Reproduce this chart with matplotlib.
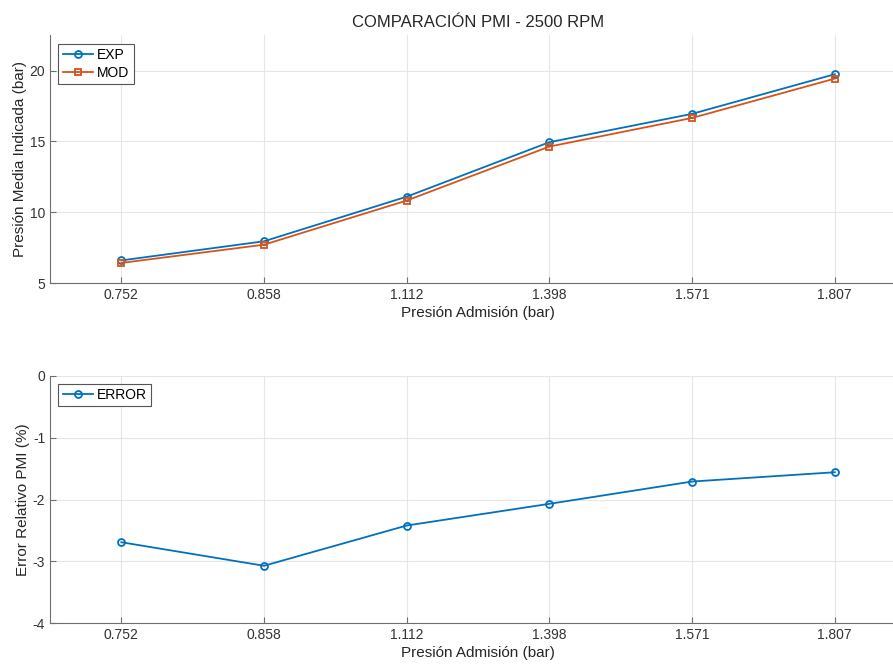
import matplotlib
matplotlib.use('Agg')
import matplotlib.pyplot as plt
import numpy as np

# Datos
presion_adm = ['0.752', '0.858', '1.112', '1.398', '1.571', '1.807']
pmi_exp = [6.60, 7.95, 11.10, 14.95, 16.95, 19.75]
pmi_mod = [6.42, 7.71, 10.83, 14.64, 16.66, 19.44]
error_rel = [-2.69, -3.07, -2.42, -2.07, -1.71, -1.56]

azul = '#0072BD'
naranja = '#D95319'
gris_texto = '#262626'

plt.rcParams['font.family'] = ['Liberation Sans', 'DejaVu Sans']
plt.rcParams['font.size'] = 10
plt.rcParams['axes.unicode_minus'] = False

x = np.arange(1, len(presion_adm) + 1)

fig = plt.figure(figsize=(8.93, 6.66), dpi=100)
ax1 = fig.add_axes([0.056, 0.575, 0.9586, 0.372])
ax2 = fig.add_axes([0.056, 0.064, 0.9586, 0.372])


def estilo_ejes(ax):
    ax.set_xlim(0.5, 6.5)
    ax.set_xticks(x)
    ax.set_xticklabels(presion_adm)
    ax.grid(True, color='#E6E6E6', linewidth=0.8)
    ax.set_axisbelow(True)
    ax.spines['top'].set_visible(False)
    ax.spines['right'].set_visible(False)
    for s in ('left', 'bottom'):
        ax.spines[s].set_color('#6E6E6E')
        ax.spines[s].set_linewidth(0.8)
    ax.tick_params(direction='in', length=4, colors='#6E6E6E',
                   labelcolor='#333333', labelsize=10)
    ax.set_xlabel('Presión Admisión (bar)', fontsize=11, color=gris_texto, labelpad=3)


# Grafica PMI
ax1.plot(x, pmi_exp, '-o', color=azul, lw=1.3, ms=5, mfc='none', mew=1.3, label='EXP')
ax1.plot(x, pmi_mod, '-s', color=naranja, lw=1.3, ms=5, mfc='none', mew=1.3, label='MOD')
ax1.set_ylim(5, 22.5)
ax1.set_yticks([5, 10, 15, 20])
estilo_ejes(ax1)
ax1.set_ylabel('Presión Media Indicada (bar)', fontsize=11, color=gris_texto, labelpad=2)
ax1.set_title('COMPARACIÓN PMI - 2500 RPM', fontsize=12, color=gris_texto, pad=6)
leg = ax1.legend(loc='upper left', fancybox=False, framealpha=1, edgecolor='#555555',
                 fontsize=10, handlelength=2.2, handletextpad=0.3, borderpad=0.3,
                 labelspacing=0.3, borderaxespad=0.6)
leg.get_frame().set_linewidth(0.8)

# Grafica error
ax2.plot(x, error_rel, '-o', color=azul, lw=1.3, ms=5, mfc='none', mew=1.3, label='ERROR')
ax2.set_ylim(-4, 0)
ax2.set_yticks([-4, -3, -2, -1, 0])
estilo_ejes(ax2)
ax2.set_ylabel('Error Relativo PMI (%)', fontsize=11, color=gris_texto, labelpad=2)
leg2 = ax2.legend(loc='upper left', fancybox=False, framealpha=1, edgecolor='#555555',
                  fontsize=10, handlelength=2.2, handletextpad=0.3, borderpad=0.3,
                  borderaxespad=0.6)
leg2.get_frame().set_linewidth(0.8)

fig.savefig('out.png', dpi=100)
